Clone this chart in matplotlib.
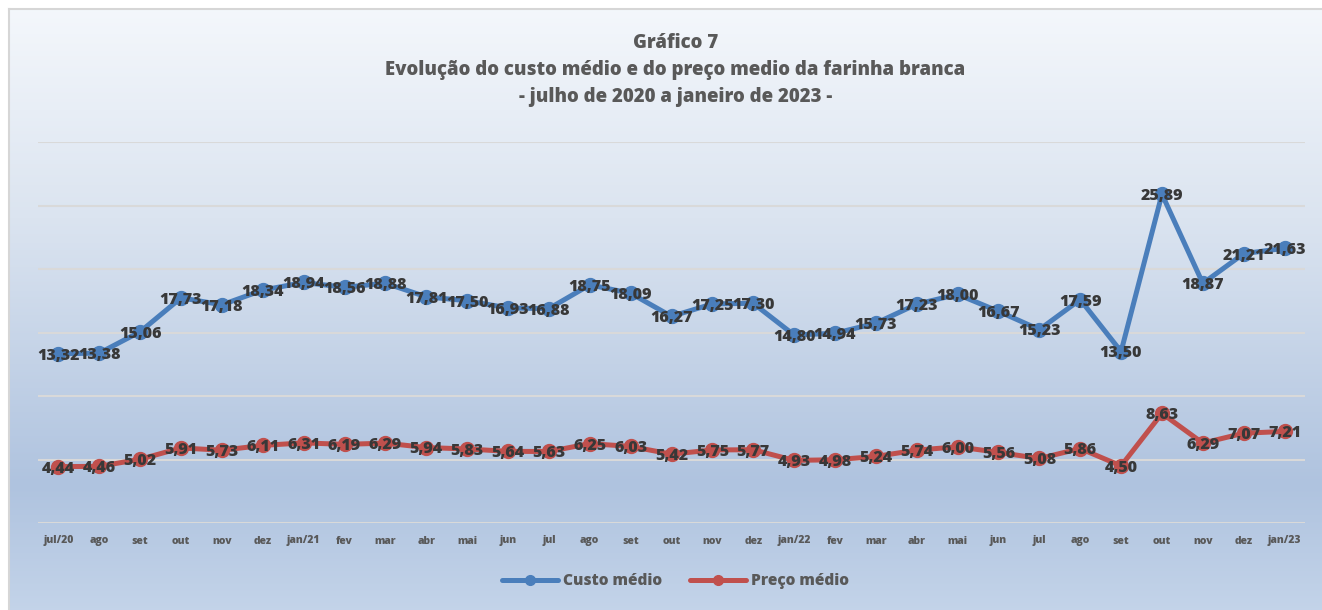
import numpy as np
import matplotlib
matplotlib.use("Agg")
import matplotlib.pyplot as plt
from matplotlib.colors import LinearSegmentedColormap
from matplotlib.lines import Line2D
from matplotlib.patches import Rectangle

# data
months = ["jul/20", "ago", "set", "out", "nov", "dez", "jan/21", "fev", "mar", "abr",
          "mai", "jun", "jul", "ago", "set", "out", "nov", "dez", "jan/22", "fev",
          "mar", "abr", "mai", "jun", "jul", "ago", "set", "out", "nov", "dez", "jan/23"]
custo = [13.32, 13.38, 15.06, 17.73, 17.18, 18.34, 18.94, 18.56, 18.88, 17.81,
         17.50, 16.93, 16.88, 18.75, 18.09, 16.27, 17.25, 17.30, 14.80, 14.94,
         15.73, 17.23, 18.00, 16.67, 15.23, 17.59, 13.50, 25.89, 18.87, 21.21, 21.63]
preco = [4.44, 4.46, 5.02, 5.91, 5.73, 6.11, 6.31, 6.19, 6.29, 5.94,
         5.83, 5.64, 5.63, 6.25, 6.03, 5.42, 5.75, 5.77, 4.93, 4.98,
         5.24, 5.74, 6.00, 5.56, 5.08, 5.86, 4.50, 8.63, 6.29, 7.07, 7.21]

FONT = "Open Sans"
BLUE = "#4a7ebb"
RED = "#c0504d"
TXT = "#595959"
LBL = "#383838"

fig = plt.figure(figsize=(13.22, 6.10), dpi=100)
fig.patch.set_facecolor("#c8d6ea")

# gradient background (Excel style) over the whole figure
bg = fig.add_axes([0, 0, 1, 1], zorder=-10)
cmap = LinearSegmentedColormap.from_list(
    "bg", [(0, "#f5f8fc"), (0.35, "#dbe4f0"), (0.78, "#afc3df"), (1.0, "#c5d5ea")])
grad = np.tile(np.linspace(0, 1, 256).reshape(-1, 1), (1, 4))
bg.imshow(grad, aspect="auto", cmap=cmap, extent=[-0.1, 1.1, -0.02, 1.0], origin="upper")
bg.set_xlim(0, 1)
bg.set_ylim(0, 1)
bg.set_axis_off()
# white margin left of / above the chart frame
bg.add_patch(Rectangle((0, 0), 9 / 1322, 1, color="white", transform=bg.transAxes, lw=0))
bg.add_patch(Rectangle((0, 1 - 9 / 610), 1, 9 / 610, color="white", transform=bg.transAxes, lw=0))
# chart border: only top and left edges are visible in the crop
fig.add_artist(Line2D([9 / 1322, 1.01], [1 - 9 / 610] * 2, transform=fig.transFigure,
                      color="#d6d6d6", lw=1.5))
fig.add_artist(Line2D([9 / 1322] * 2, [-0.01, 1 - 9 / 610], transform=fig.transFigure,
                      color="#d6d6d6", lw=1.5))

ax = fig.add_axes([38 / 1322, 1 - 523 / 610, (1305 - 38) / 1322, (523 - 142) / 610])
ax.set_facecolor("none")
x = np.arange(len(months))

ax.plot(x, custo, color=BLUE, lw=3.6, marker="o", ms=10, label="Custo médio",
        solid_capstyle="round", zorder=3)
ax.plot(x, preco, color=RED, lw=3.6, marker="o", ms=10, label="Preço médio",
        solid_capstyle="round", zorder=3)

for series in (custo, preco):
    for xi, v in zip(x, series):
        ax.text(xi, v - 0.15, f"{v:.2f}".replace(".", ","), ha="center", va="center",
                fontsize=11.5, fontweight="heavy", color=LBL, family=FONT, zorder=4)

ax.set_xlim(-0.5, len(months) - 0.5)
ax.set_ylim(0, 30)
ax.set_yticks(np.arange(0, 31, 5))
ax.set_yticklabels([])
ax.tick_params(axis="y", length=0)
ax.grid(axis="y", color="#d9d9d9", lw=1.5)
ax.set_axisbelow(True)
ax.set_xticks(x)
ax.set_xticklabels(months, fontsize=7.5, fontweight="heavy", color=TXT, family=FONT)
ax.tick_params(axis="x", length=0, pad=9)
for s in ax.spines.values():
    s.set_visible(False)

title_lines = ["Gráfico 7",
               "Evolução do custo médio e do preço medio da farinha branca",
               "- julho de 2020 a janeiro de 2023 -"]
for ypx, line in zip([43, 70, 97], title_lines):
    fig.text(0.511, 1 - ypx / 610, line, ha="center", va="center",
             fontsize=13.4, fontweight="heavy", color=TXT, family=FONT)

leg = fig.legend(loc="center", bbox_to_anchor=(0.511, 1 - 581 / 610), ncol=2, frameon=False,
                 prop={"family": FONT, "weight": "heavy", "size": 11.2},
                 handlelength=3.6, columnspacing=1.8, handletextpad=0.3, markerscale=0.7)
for t in leg.get_texts():
    t.set_color(TXT)

fig.savefig("out.png", dpi=100)
